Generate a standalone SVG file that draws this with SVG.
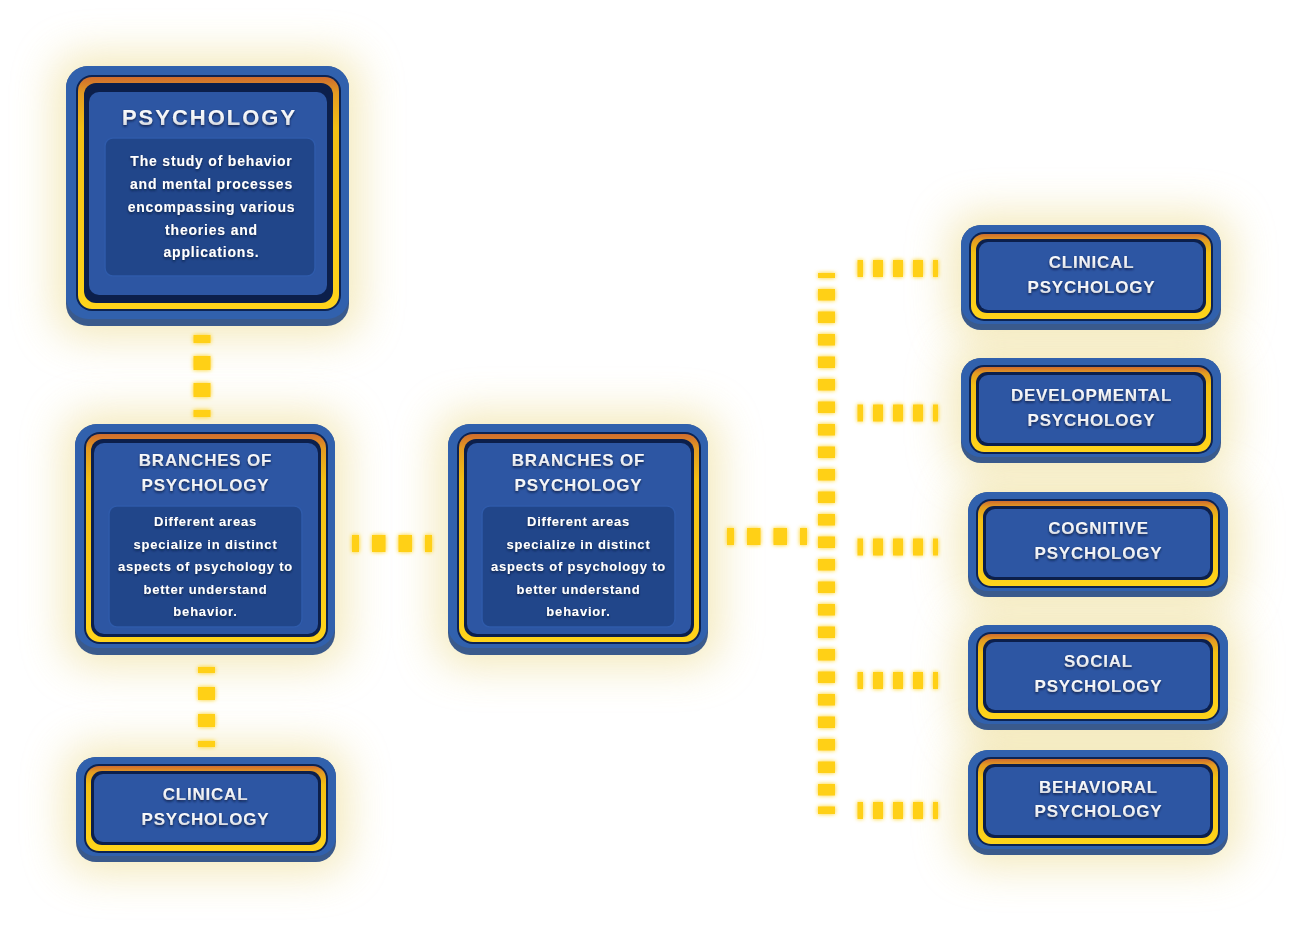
<svg xmlns="http://www.w3.org/2000/svg" width="1294" height="926" viewBox="0 0 1294 926">
<defs>
<linearGradient id="gold" x1="0" y1="0" x2="0" y2="1">
<stop offset="0" stop-color="#cf6c2e"/>
<stop offset="0.07" stop-color="#e39b22"/>
<stop offset="0.22" stop-color="#f2bf14"/>
<stop offset="1" stop-color="#ffd41b"/>
</linearGradient>
<linearGradient id="silver" x1="0" y1="0" x2="0" y2="1">
<stop offset="0" stop-color="#ffffff"/>
<stop offset="0.55" stop-color="#eef0f4"/>
<stop offset="1" stop-color="#c3c8d2"/>
</linearGradient>
<filter id="halo" x="-40%" y="-40%" width="180%" height="180%">
<feGaussianBlur stdDeviation="22"/>
</filter>
<filter id="glow" filterUnits="userSpaceOnUse" x="0" y="0" width="1294" height="926">
<feGaussianBlur in="SourceGraphic" stdDeviation="2.2" result="b"/>
<feMerge><feMergeNode in="b"/><feMergeNode in="SourceGraphic"/></feMerge>
</filter>
<filter id="tshadow" x="-10%" y="-30%" width="120%" height="160%">
<feDropShadow dx="0" dy="1.5" stdDeviation="1.3" flood-color="#0a1838" flood-opacity="0.85"/>
</filter>
</defs>
<style>
.halo{fill:#eddc92;opacity:0.65;filter:url(#halo)}
.osh{fill:#3a5a8c}
.outer{fill:#3161ad}
.rim{fill:#0d2352}
.gold{fill:url(#gold)}
.navy{fill:#0c1f4b}
.panel{fill:#2d56a3}
.tbox{fill:#21468a;stroke:#2f5bab;stroke-width:1.5}
.title{font-family:"Liberation Sans",Arial,sans-serif;font-weight:700;font-size:17px;letter-spacing:0.8px;fill:url(#silver);text-anchor:middle;filter:url(#tshadow)}
.big{font-size:22px;letter-spacing:2px}
.body{font-family:"Liberation Sans",Arial,sans-serif;font-weight:700;font-size:13px;letter-spacing:0.8px;fill:#ffffff;text-anchor:middle;filter:url(#tshadow)}
.b14{font-size:14px}
.dash{stroke:#ffd016;fill:none;filter:url(#glow)}
</style>
<rect x="0" y="0" width="1294" height="926" fill="#ffffff"/>
<g id="halos">
<rect class="halo" x="56" y="56" width="303" height="280" rx="24"/>
<rect class="halo" x="65" y="414" width="280" height="251" rx="24"/>
<rect class="halo" x="438" y="414" width="280" height="251" rx="24"/>
<rect class="halo" x="66" y="747" width="280" height="125" rx="24"/>
<rect class="halo" x="951" y="215" width="280" height="125" rx="24"/>
<rect class="halo" x="951" y="348" width="280" height="125" rx="24"/>
<rect class="halo" x="958" y="482" width="280" height="125" rx="24"/>
<rect class="halo" x="958" y="615" width="280" height="125" rx="24"/>
<rect class="halo" x="958" y="740" width="280" height="125" rx="24"/>
</g>
<g id="connectors">
<line class="dash" x1="202" y1="335" x2="202" y2="417" stroke-width="17" stroke-dasharray="14 13" stroke-dashoffset="6"/>
<line class="dash" x1="206.5" y1="667" x2="206.5" y2="747" stroke-width="17" stroke-dasharray="13 14" stroke-dashoffset="7"/>
<line class="dash" x1="352" y1="543.5" x2="432" y2="543.5" stroke-width="17" stroke-dasharray="13.5 13" stroke-dashoffset="6.5"/>
<line class="dash" x1="727" y1="536.5" x2="807" y2="536.5" stroke-width="17" stroke-dasharray="13.5 13" stroke-dashoffset="6.5"/>
<line class="dash" x1="826.5" y1="273" x2="826.5" y2="814" stroke-width="17" stroke-dasharray="11.5 11" stroke-dashoffset="6.5"/>
<line class="dash" x1="857.5" y1="268.5" x2="938" y2="268.5" stroke-width="17" stroke-dasharray="10 10" stroke-dashoffset="4.5"/>
<line class="dash" x1="857.5" y1="413" x2="938" y2="413" stroke-width="17" stroke-dasharray="10 10" stroke-dashoffset="4.5"/>
<line class="dash" x1="857.5" y1="547" x2="938" y2="547" stroke-width="17" stroke-dasharray="10 10" stroke-dashoffset="4.5"/>
<line class="dash" x1="857.5" y1="680.5" x2="938" y2="680.5" stroke-width="17" stroke-dasharray="10 10" stroke-dashoffset="4.5"/>
<line class="dash" x1="857.5" y1="810.5" x2="938" y2="810.5" stroke-width="17" stroke-dasharray="10 10" stroke-dashoffset="4.5"/>
</g>
<g id="psychology" transform="translate(66,66)">
<rect class="osh" x="0" y="0" width="283" height="260" rx="22"/>
<rect class="outer" x="0" y="0" width="283" height="253" rx="22"/>
<rect class="rim" x="10" y="9" width="265" height="236" rx="16"/>
<rect class="gold" x="12" y="11" width="261" height="232" rx="14"/>
<rect class="navy" x="18" y="17" width="249" height="220" rx="12"/>
<rect class="panel" x="23" y="26" width="238" height="203" rx="10"/>
<rect class="tbox" x="39" y="72" width="210" height="138" rx="8"/>
<text class="title big" x="143.5" y="59">PSYCHOLOGY</text>
<text class="body b14" x="145.5" y="100">The study of behavior</text>
<text class="body b14" x="145.5" y="123">and mental processes</text>
<text class="body b14" x="145.5" y="146">encompassing various</text>
<text class="body b14" x="145.5" y="169">theories and</text>
<text class="body b14" x="145.5" y="191">applications.</text>
</g>
<g id="branches-left" transform="translate(75,424)">
<rect class="osh" x="0" y="0" width="260" height="231" rx="22"/>
<rect class="outer" x="0" y="0" width="260" height="224" rx="22"/>
<rect class="rim" x="9" y="8" width="244" height="212" rx="16"/>
<rect class="gold" x="11" y="10" width="240" height="208" rx="14"/>
<rect class="navy" x="16" y="15" width="230" height="198" rx="12"/>
<rect class="panel" x="19" y="19" width="224" height="191" rx="10"/>
<rect class="tbox" x="34" y="82" width="193" height="121" rx="8"/>
<text class="title" x="130.5" y="42">BRANCHES OF</text>
<text class="title" x="130.5" y="67">PSYCHOLOGY</text>
<text class="body" x="130.5" y="101.5">Different areas</text>
<text class="body" x="130.5" y="124.5">specialize in distinct</text>
<text class="body" x="130.5" y="146.5">aspects of psychology to</text>
<text class="body" x="130.5" y="169.5">better understand</text>
<text class="body" x="130.5" y="191.5">behavior.</text>
</g>
<g id="branches-mid" transform="translate(448,424)">
<rect class="osh" x="0" y="0" width="260" height="231" rx="22"/>
<rect class="outer" x="0" y="0" width="260" height="224" rx="22"/>
<rect class="rim" x="9" y="8" width="244" height="212" rx="16"/>
<rect class="gold" x="11" y="10" width="240" height="208" rx="14"/>
<rect class="navy" x="16" y="15" width="230" height="198" rx="12"/>
<rect class="panel" x="19" y="19" width="224" height="191" rx="10"/>
<rect class="tbox" x="34" y="82" width="193" height="121" rx="8"/>
<text class="title" x="130.5" y="42">BRANCHES OF</text>
<text class="title" x="130.5" y="67">PSYCHOLOGY</text>
<text class="body" x="130.5" y="101.5">Different areas</text>
<text class="body" x="130.5" y="124.5">specialize in distinct</text>
<text class="body" x="130.5" y="146.5">aspects of psychology to</text>
<text class="body" x="130.5" y="169.5">better understand</text>
<text class="body" x="130.5" y="191.5">behavior.</text>
</g>
<g id="clinical-left" transform="translate(76,757)">
<rect class="osh" x="0" y="0" width="260" height="105" rx="20"/>
<rect class="outer" x="0" y="0" width="260" height="99" rx="20"/>
<rect class="rim" x="8" y="7" width="244" height="89" rx="15"/>
<rect class="gold" x="10" y="9" width="240" height="85" rx="13"/>
<rect class="navy" x="15" y="14" width="230" height="74" rx="11"/>
<rect class="panel" x="18" y="17" width="224" height="68" rx="9"/>
<text class="title" x="129.5" y="43">CLINICAL</text>
<text class="title" x="129.5" y="68">PSYCHOLOGY</text>
</g>
<g id="clinical-right" transform="translate(961,225)">
<rect class="osh" x="0" y="0" width="260" height="105" rx="20"/>
<rect class="outer" x="0" y="0" width="260" height="99" rx="20"/>
<rect class="rim" x="8" y="7" width="244" height="89" rx="15"/>
<rect class="gold" x="10" y="9" width="240" height="85" rx="13"/>
<rect class="navy" x="15" y="14" width="230" height="74" rx="11"/>
<rect class="panel" x="18" y="17" width="224" height="68" rx="9"/>
<text class="title" x="130.5" y="43">CLINICAL</text>
<text class="title" x="130.5" y="68">PSYCHOLOGY</text>
</g>
<g id="developmental" transform="translate(961,358)">
<rect class="osh" x="0" y="0" width="260" height="105" rx="20"/>
<rect class="outer" x="0" y="0" width="260" height="99" rx="20"/>
<rect class="rim" x="8" y="7" width="244" height="89" rx="15"/>
<rect class="gold" x="10" y="9" width="240" height="85" rx="13"/>
<rect class="navy" x="15" y="14" width="230" height="74" rx="11"/>
<rect class="panel" x="18" y="17" width="224" height="68" rx="9"/>
<text class="title" x="130.5" y="43">DEVELOPMENTAL</text>
<text class="title" x="130.5" y="68">PSYCHOLOGY</text>
</g>
<g id="cognitive" transform="translate(968,492)">
<rect class="osh" x="0" y="0" width="260" height="105" rx="20"/>
<rect class="outer" x="0" y="0" width="260" height="99" rx="20"/>
<rect class="rim" x="8" y="7" width="244" height="89" rx="15"/>
<rect class="gold" x="10" y="9" width="240" height="85" rx="13"/>
<rect class="navy" x="15" y="14" width="230" height="74" rx="11"/>
<rect class="panel" x="18" y="17" width="224" height="68" rx="9"/>
<text class="title" x="130.5" y="42">COGNITIVE</text>
<text class="title" x="130.5" y="67">PSYCHOLOGY</text>
</g>
<g id="social" transform="translate(968,625)">
<rect class="osh" x="0" y="0" width="260" height="105" rx="20"/>
<rect class="outer" x="0" y="0" width="260" height="99" rx="20"/>
<rect class="rim" x="8" y="7" width="244" height="89" rx="15"/>
<rect class="gold" x="10" y="9" width="240" height="85" rx="13"/>
<rect class="navy" x="15" y="14" width="230" height="74" rx="11"/>
<rect class="panel" x="18" y="17" width="224" height="68" rx="9"/>
<text class="title" x="130.5" y="42">SOCIAL</text>
<text class="title" x="130.5" y="67">PSYCHOLOGY</text>
</g>
<g id="behavioral" transform="translate(968,750)">
<rect class="osh" x="0" y="0" width="260" height="105" rx="20"/>
<rect class="outer" x="0" y="0" width="260" height="99" rx="20"/>
<rect class="rim" x="8" y="7" width="244" height="89" rx="15"/>
<rect class="gold" x="10" y="9" width="240" height="85" rx="13"/>
<rect class="navy" x="15" y="14" width="230" height="74" rx="11"/>
<rect class="panel" x="18" y="17" width="224" height="68" rx="9"/>
<text class="title" x="130.5" y="43">BEHAVIORAL</text>
<text class="title" x="130.5" y="67">PSYCHOLOGY</text>
</g>
</svg>
